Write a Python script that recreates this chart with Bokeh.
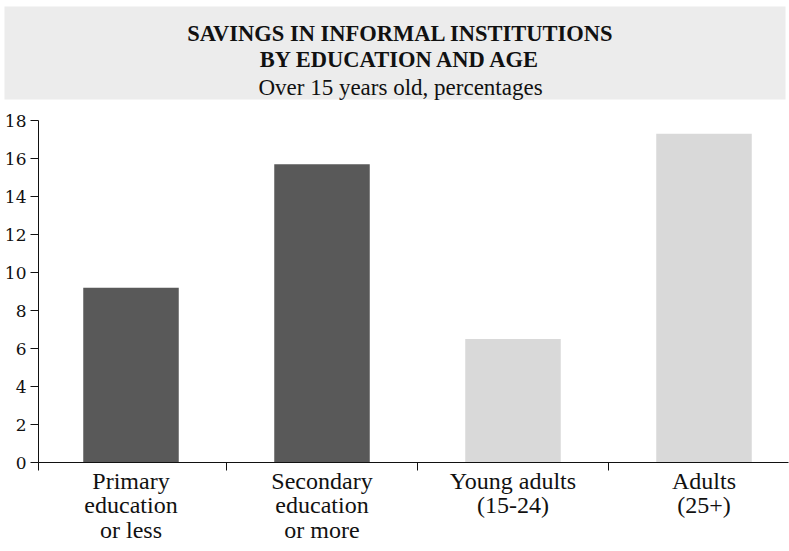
from bokeh.plotting import figure
from bokeh.models import Range1d, FixedTicker
from bokeh.layouts import column
from bokeh.core.properties import value
from bokeh.embed import file_html
from bokeh.resources import INLINE

# ---- data ----
title_lines = ["SAVINGS IN INFORMAL INSTITUTIONS", "BY EDUCATION AND AGE"]
subtitle = "Over 15 years old, percentages"
categories = ["Primary\neducation\nor less", "Secondary\neducation\nor more",
              "Young adults\n(15-24)", "Adults\n(25+)"]
groups = ["education", "education", "age", "age"]
values = [9.2, 15.7, 6.5, 17.3]
y_ticks = [0, 2, 4, 6, 8, 10, 12, 14, 16, 18]

group_colors = {"education": "#595959", "age": "#d9d9d9"}
bar_colors = [group_colors[g] for g in groups]
centers = [i + 0.5 for i in range(len(categories))]
dividers = [1, 2, 3]

SERIF = "Liberation Serif"

# ---- title band ----
band = figure(width=789, height=100, x_range=Range1d(0, 789), y_range=Range1d(100, 0),
              toolbar_location=None, output_backend="svg", min_border=0,
              x_axis_location=None, y_axis_location=None)
band.frame_align = False
band.grid.visible = False
band.outline_line_color = None
band.background_fill_color = "white"
band.border_fill_color = "white"
band.quad(left=[4], right=[785], top=[6], bottom=[99], fill_color="#ececec", line_color=None)
band.text(x=[400, 400], y=[32.7, 59.3], text=title_lines, text_align="center",
          text_baseline="alphabetic", text_font=value(SERIF), text_font_style="bold",
          text_font_size="22.5px", text_color="#111111")
band.text(x=[400], y=[87.3], text=[subtitle], text_align="center",
          text_baseline="alphabetic", text_font=value(SERIF),
          text_font_size="23px", text_color="#111111")

# ---- bar chart ----
x_start = 3 / 191
x_end = 753 / 191
p = figure(width=789, height=451, x_range=Range1d(x_start, x_end), y_range=Range1d(0, 18),
           toolbar_location=None, output_backend="svg",
           min_border_left=38, min_border_right=1, min_border_top=20, min_border_bottom=89)
p.frame_align = False
p.grid.visible = False
p.outline_line_color = None
p.background_fill_color = "white"
p.border_fill_color = "white"

p.vbar(x=centers, top=values, bottom=0, width=0.5, fill_color=bar_colors, line_color=None)

# y axis
ya = p.yaxis[0]
ya.ticker = FixedTicker(ticks=y_ticks)
ya.major_tick_out = 8
ya.major_tick_in = 0
ya.minor_tick_line_color = None
ya.axis_line_color = "#111111"
ya.major_tick_line_color = "#111111"
ya.major_label_text_font = "DejaVu Serif"
ya.major_label_text_font_size = "17px"
ya.major_label_text_color = "#111111"
ya.major_label_standoff = 4

# x axis: labels at category centers, dividers as minor ticks
xa = p.xaxis[0]
xa.ticker = FixedTicker(ticks=centers, minor_ticks=[x_start] + dividers)
xa.major_label_overrides = {c: lab for c, lab in zip(centers, categories)}
xa.major_tick_line_color = None
xa.major_tick_out = 0
xa.major_tick_in = 0
xa.minor_tick_out = 8
xa.minor_tick_in = 0
xa.minor_tick_line_color = "#111111"
xa.axis_line_color = "#111111"
xa.major_label_text_font = SERIF
xa.major_label_text_font_size = "24px"
xa.major_label_text_line_height = 0.95
xa.major_label_text_color = "#111111"
xa.major_label_standoff = -3

layout = column(band, p, spacing=0)
open("out.html", "w").write(file_html(layout, INLINE))
